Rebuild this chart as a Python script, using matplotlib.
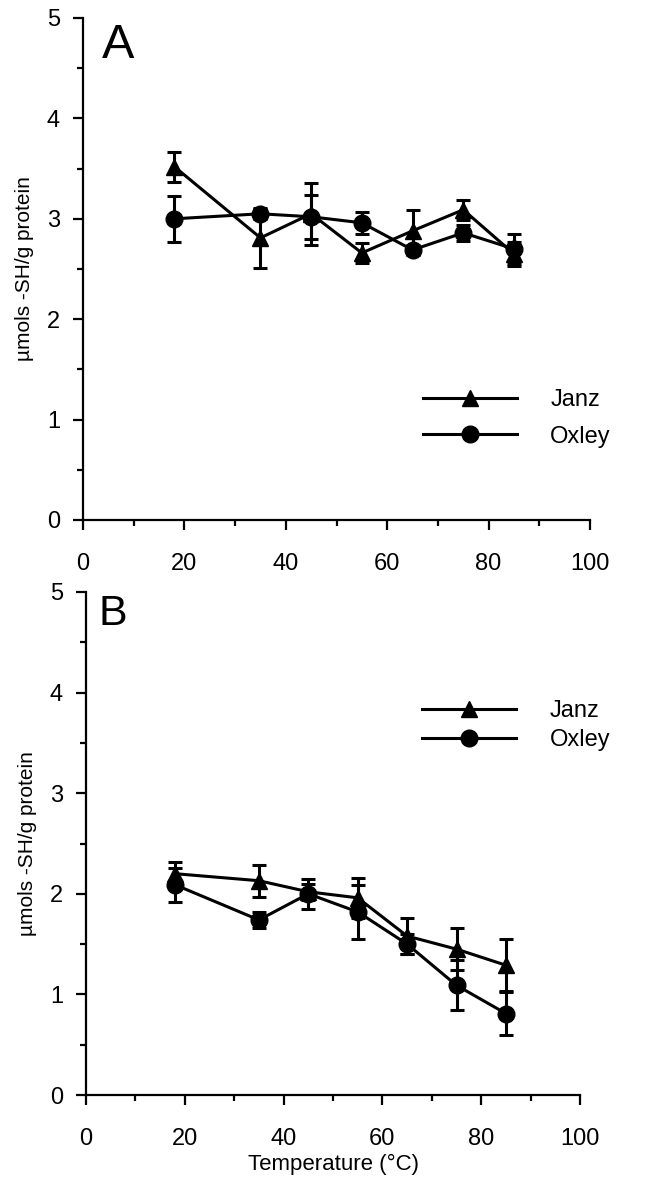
import matplotlib
matplotlib.use("Agg")
import matplotlib.pyplot as plt
from matplotlib.ticker import MultipleLocator

plt.rcParams['font.family'] = ['Liberation Sans', 'DejaVu Sans']

temps = [18, 35, 45, 55, 65, 75, 85]

# panel A
janz_a = [3.52, 2.81, 3.05, 2.66, 2.88, 3.09, 2.65]
janz_a_err = [0.15, 0.30, 0.31, 0.10, 0.21, 0.10, 0.12]
oxley_a = [3.00, 3.05, 3.02, 2.96, 2.69, 2.86, 2.70]
oxley_a_err = [0.23, 0.05, 0.22, 0.11, 0.05, 0.08, 0.15]

# panel B
janz_b = [2.20, 2.13, 2.02, 1.96, 1.58, 1.45, 1.29]
janz_b_err = [0.12, 0.16, 0.08, 0.20, 0.18, 0.21, 0.26]
oxley_b = [2.09, 1.74, 2.00, 1.82, 1.50, 1.09, 0.81]
oxley_b_err = [0.17, 0.08, 0.15, 0.27, 0.10, 0.25, 0.21]

W, H = 657, 1179
fig = plt.figure(figsize=(W / 100, H / 100), dpi=100)


def panel(rect, janz, janz_err, oxley, oxley_err, letter, letter_pos, letter_size,
          leg_anchor, leg_spacing, xlabel):
    ax = fig.add_axes(rect)
    for y, e in [(janz, janz_err), (oxley, oxley_err)]:
        ax.errorbar(temps, y, yerr=e, fmt='none', ecolor='black',
                    elinewidth=2.2, capsize=5, capthick=2.2, zorder=2)
    ax.plot(temps, janz, color='black', lw=2.2, marker='^', ms=12,
            label='Janz', zorder=3)
    ax.plot(temps, oxley, color='black', lw=2.2, marker='o', ms=12,
            label='Oxley', zorder=3)

    ax.set_xlim(0, 100)
    ax.set_ylim(0, 5)
    ax.xaxis.set_major_locator(MultipleLocator(20))
    ax.xaxis.set_minor_locator(MultipleLocator(10))
    ax.yaxis.set_major_locator(MultipleLocator(1))
    ax.yaxis.set_minor_locator(MultipleLocator(0.5))
    for s in ['top', 'right']:
        ax.spines[s].set_visible(False)
    for s in ['left', 'bottom']:
        ax.spines[s].set_linewidth(1.6)
    ax.tick_params(which='major', direction='out', length=7.5, width=1.6,
                   labelsize=17)
    ax.tick_params(which='minor', direction='out', length=4.5, width=1.6)
    ax.tick_params(axis='y', which='major', pad=9)
    ax.tick_params(axis='x', which='major', pad=16)
    ax.set_ylabel('µmols -SH/g protein', fontsize=15, labelpad=9)
    if xlabel:
        ax.set_xlabel('Temperature (°C)', fontsize=16, labelpad=3)
    ax.text(letter_pos[0], letter_pos[1], letter, transform=ax.transAxes,
            fontsize=letter_size, va='top', ha='left')
    ax.legend(loc='upper left', bbox_to_anchor=leg_anchor, frameon=False,
              fontsize=17, handlelength=4.0, handletextpad=1.4,
              labelspacing=leg_spacing, borderpad=0, borderaxespad=0)
    return ax


panel([83 / W, 1 - 520 / H, 507 / W, 502 / H], janz_a, janz_a_err,
      oxley_a, oxley_a_err, 'A', (0.037, 0.99), 35, (0.67, 0.26), 0.6, False)
panel([86 / W, 1 - 1095 / H, 494 / W, 503 / H], janz_b, janz_b_err,
      oxley_b, oxley_b_err, 'B', (0.025, 0.996), 31, (0.68, 0.785), 0.3, True)

fig.savefig('out.png', dpi=100)
